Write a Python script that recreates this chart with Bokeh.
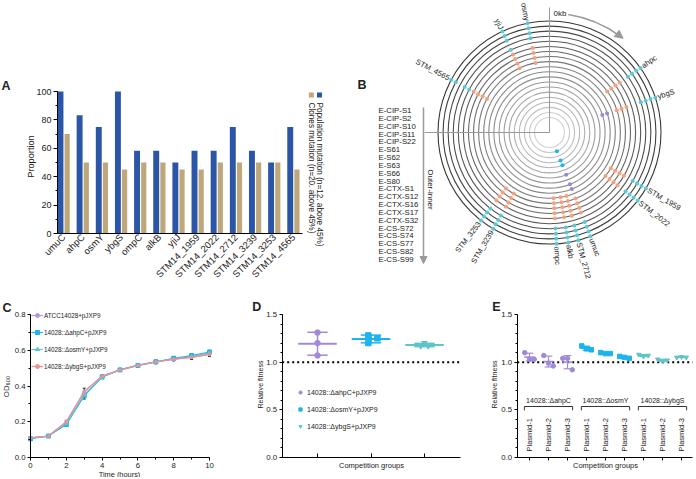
import math
import numpy as np
from bokeh.plotting import figure
from bokeh.models import (Range1d, FixedTicker, SingleIntervalTicker, LinearAxis, Legend,
                          LegendItem, Whisker, ColumnDataSource, NumeralTickFormatter, Arrow,
                          NormalHead, TeeHead)
from bokeh.embed import file_html
from bokeh.resources import INLINE
from bokeh.core.properties import value

FONT = "Liberation Sans"
INK = "#222222"

# ---------------- Panel A data ----------------
genes_a = ["umuC", "ahpC", "osmY", "ybgS", "ompC", "alkB", "yjiJ", "STM14_1959",
           "STM14_2022", "STM14_2712", "STM14_3239", "STM14_3253", "STM14_4565"]
population_pct = [100, 83.3, 75, 100, 58.3, 58.3, 50, 58.3, 58.3, 75, 58.3, 50, 75]
clones_pct = [70, 50, 50, 45, 50, 50, 45, 45, 50, 50, 50, 50, 45]
legend_a = ["Population mutation (n=12. above 45%)", "Clones mutation (n=20. above 45%)"]

# ---------------- Panel B data ----------------
samples = ["E-CIP-S1", "E-CIP-S2", "E-CIP-S10", "E-CIP-S11", "E-CIP-S22",
           "E-S61", "E-S62", "E-S63", "E-S66", "E-S80",
           "E-CTX-S1", "E-CTX-S12", "E-CTX-S16", "E-CTX-S17", "E-CTX-S32",
           "E-CS-S72", "E-CS-S74", "E-CS-S77", "E-CS-S82", "E-CS-S99"]
circ_genes = ["ahpc", "ybgS", "STM_1959", "STM_2022", "umuc", "STM_2712", "alkb", "ompc",
              "STM_3239", "STM_3253", "STM_4565", "yjiJ", "osmy"]
circ_pos_deg = [54.6, 71.7, 120.2, 127.8, 158.5, 165.0, 170.3, 176.4, 210.4, 217.9, 298.2,
                335.0, 348.6]
# mutated sample indices (0 = outermost ring)
mut_samples = {
    "ahpc": [0, 1, 2, 3, 5, 6, 7, 8],
    "ybgS": [0, 1, 2, 3, 6, 7, 8, 10, 11],
    "STM_1959": [0, 1, 2, 3, 5, 6, 7, 8],
    "STM_2022": [0, 1, 2, 3, 5, 6, 7, 8],
    "umuc": [0, 1, 2, 3, 5, 6, 7, 8, 10, 11, 13, 15, 16, 18],
    "STM_2712": [0, 1, 2, 3, 5, 6, 7, 8, 9],
    "alkb": [0, 1, 2, 3, 5, 6, 7, 8, 9],
    "ompc": [0, 1, 2, 3, 5, 6, 7, 8, 9],
    "STM_3239": [0, 1, 2, 3, 5, 6, 7, 8],
    "STM_3253": [0, 1, 2, 3, 5, 6, 7, 8],
    "STM_4565": [0, 1, 3, 4, 5, 6, 7, 8],
    "yjiJ": [0, 1, 2, 4, 5, 6, 7, 8],
    "osmy": [0, 1, 2, 3, 5, 6, 7, 8],
}

# ---------------- Panel C data ----------------
time_h = [0, 1, 2, 3, 4, 5, 6, 7, 8, 9, 10]
c_labels = ["ATCC14028+pJXP9", "14028::ΔahpC+pJXP9", "14028::ΔosmY+pJXP9",
            "14028::ΔybgS+pJXP9"]
od_atcc = [0.110, 0.120, 0.200, 0.370, 0.455, 0.490, 0.515, 0.535, 0.550, 0.560, 0.575]
od_ahpc = [0.105, 0.120, 0.185, 0.345, 0.450, 0.490, 0.515, 0.535, 0.555, 0.570, 0.590]
od_osmy = [0.110, 0.120, 0.190, 0.350, 0.450, 0.490, 0.515, 0.535, 0.550, 0.565, 0.585]
od_ybgs = [0.110, 0.120, 0.200, 0.365, 0.455, 0.490, 0.515, 0.535, 0.550, 0.560, 0.580]
od_sd = [0.005, 0.004, 0.008, 0.018, 0.008, 0.008, 0.008, 0.010, 0.010, 0.012, 0.010]

# ---------------- Panel D data ----------------
d_labels = ["14028::ΔahpC+pJXP9", "14028::ΔosmY+pJXP9", "14028::ΔybgS+pJXP9"]
d_reps = [[1.31, 1.20, 1.07], [1.28, 1.20, 1.25], [1.20, 1.17, 1.17]]
d_jitter = [[0, 0, 0], [-0.05, -0.05, 0.12], [0, -0.07, 0.07]]

# ---------------- Panel E data ----------------
e_strains = ["14028::ΔahpC", "14028::ΔosmY", "14028::ΔybgS"]
e_plasmids = ["Plasmid-1", "Plasmid-2", "Plasmid-3"]
e_reps = [
    [[1.10, 1.03, 1.03], [1.07, 0.99, 0.96], [1.04, 1.04, 0.92]],
    [[1.17, 1.14, 1.13], [1.10, 1.09, 1.09], [1.06, 1.05, 1.04]],
    [[1.08, 1.06, 1.07], [1.03, 1.01, 1.02], [1.05, 1.055, 1.05]],
]
e_jitter = [-0.25, 0.0, 0.25]

# ---------------- colours ----------------
BLUE_A, TAN_A = "#2b55a7", "#bea77b"
PURPLE, SKY, TEAL, SALMON, LAV = "#a08ad8", "#1cb3ef", "#5ec5c9", "#f29090", "#b09ae0"
DOT_COL = {"CIP": "#5cc6d3", "S": "#f5a07c", "CTX": "#9d85d8", "CS": "#1db4f0"}
GREY = "#9a9a9a"

# ---------------- one canvas, pixel base ranges ----------------
W, H = 694, 477
p = figure(width=W, height=H, x_range=Range1d(0, W), y_range=Range1d(0, H),
           output_backend="svg", toolbar_location=None, x_axis_location=None,
           y_axis_location=None, min_border=0)
p.outline_line_color = None
p.grid.visible = False
if p.title is not None:
    p.title.visible = False


def Y(ry):
    return H - ry


def lin_range(d0, d1, p0, p1, total):
    k = (p1 - p0) / (d1 - d0)
    start = d0 - p0 / k
    return Range1d(start, start + total / k)


def make_axis(side, xr, yr, fixed, bounds, ticker, tick_size="7.8px", formatter=None):
    ax = LinearAxis(x_range_name=xr, y_range_name=yr, fixed_location=fixed, bounds=bounds,
                    ticker=ticker)
    if formatter is not None:
        ax.formatter = formatter
    ax.axis_line_color = "black"
    ax.major_tick_line_color = "black"
    ax.minor_tick_line_color = "black"
    ax.major_tick_in = 0
    ax.major_tick_out = 3
    ax.minor_tick_in = 0
    ax.minor_tick_out = 2
    ax.major_label_text_font = FONT
    ax.major_label_text_font_size = tick_size
    ax.major_label_text_color = INK
    ax.major_label_standoff = 2
    p.add_layout(ax, side)
    return ax


def txt(x, y, s, size, align="left", baseline="middle", angle=0.0, bold=False, color=INK):
    p.text(x=[x], y=[Y(y)], text=[s], angle=angle, text_align=align, text_baseline=baseline,
           text_font=value(FONT), text_font_size=size,
           text_font_style="bold" if bold else "normal", text_color=color)


# =============== Panel A ===============
A_X0, A_X1 = -0.325, 12.47
p.extra_x_ranges["ax"] = lin_range(A_X0, A_X1, 57, 302, W)
p.extra_y_ranges["ay"] = lin_range(0, 100, Y(233), Y(91), H)
xa = np.arange(len(genes_a))
p.vbar(x=xa - 0.17, top=population_pct, bottom=0, width=0.31, fill_color=BLUE_A,
       line_color=None, x_range_name="ax", y_range_name="ay")
p.vbar(x=xa + 0.18, top=clones_pct, bottom=0, width=0.27, fill_color=TAN_A,
       line_color=None, x_range_name="ax", y_range_name="ay")
axA = make_axis("below", "ax", "ay", 0, (A_X0, A_X1),
                FixedTicker(ticks=[float(v) for v in xa]), "9.5px")
axA.major_label_overrides = {int(i): g for i, g in enumerate(genes_a)}
axA.major_label_orientation = math.pi / 4
axA.major_tick_out = 0
ayA = make_axis("left", "ax", "ay", A_X0, (0, 100),
                SingleIntervalTicker(interval=20, num_minor_ticks=2), "9px")
ayA.major_tick_out = 4
txt(30, 156, "Proportion", "9.2px", align="center", angle=math.pi / 2)
txt(1, 85.5, "A", "12.5px", bold=True)
p.scatter(x=[319, 310.8], y=[Y(94.5)] * 2, marker="square", size=5,
          fill_color=[BLUE_A, TAN_A], line_color=None)
txt(318.5, 102, legend_a[0], "8.2px", angle=-math.pi / 2)
txt(310.8, 102, legend_a[1], "8.2px", angle=-math.pi / 2)

# =============== Panel B ===============
CX, CY = 549.0, Y(132.0)
R_OUT, R_STEP = 111.5, 5.08
n_s = len(samples)
radii = [R_OUT - R_STEP * k for k in range(n_s)]
grays = np.linspace(55, 208, n_s)
ring_cols = ["#%02x%02x%02x" % (int(g), int(g), int(g)) for g in grays]
p.circle(x=[CX] * n_s, y=[CY] * n_s, radius=radii, fill_color=None, line_color=ring_cols,
         line_width=1.1)
p.segment(x0=[CX, CX], y0=[CY, CY], x1=[CX, 424], y1=[Y(7), CY], line_color=GREY,
          line_width=1)


def sample_group(name):
    if "CIP" in name:
        return "CIP"
    if "CTX" in name:
        return "CTX"
    if "CS" in name:
        return "CS"
    return "S"


dxs, dys, dcs = [], [], []
for gene, deg in zip(circ_genes, circ_pos_deg):
    th = math.radians(90 - deg)
    for k in mut_samples[gene]:
        dxs.append(CX + radii[k] * math.cos(th))
        dys.append(CY + radii[k] * math.sin(th))
        dcs.append(DOT_COL[sample_group(samples[k])])
p.scatter(x=dxs, y=dys, size=4, fill_color=dcs, line_color=None)

R_LAB = 114.0
lx, ly, la, lal = [], [], [], []
for gene, deg in zip(circ_genes, circ_pos_deg):
    th = math.radians(90 - deg)
    lx.append(CX + R_LAB * math.cos(th))
    ly.append(CY + R_LAB * math.sin(th))
    if math.cos(th) >= 0:
        la.append(th)
        lal.append("left")
    else:
        la.append(th + math.pi)
        lal.append("right")
p.text(x="x", y="y", text="t", angle="a", text_align="al",
       source=ColumnDataSource(dict(x=lx, y=ly, t=circ_genes, a=la, al=lal)),
       text_baseline="middle", text_font=value(FONT), text_font_size="7.6px", text_color=INK)

p.text(x=[378.0] * n_s, y=[Y(110 + 7.84 * k) for k in range(n_s)], text=samples,
       text_align="left", text_baseline="middle", text_font=value(FONT),
       text_font_size="7.8px", text_color=INK)
p.add_layout(Arrow(end=NormalHead(size=7, fill_color=GREY, line_color=GREY),
                   x_start=423, y_start=Y(107), x_end=423, y_end=Y(263),
                   line_color=GREY, line_width=1.5))
txt(429.5, 189, "Outer-inner", "8px", align="center", angle=-math.pi / 2)
R_ARC = 119.5
p.arc(x=CX, y=CY, radius=R_ARC, start_angle=math.radians(54), end_angle=math.radians(81),
      line_color=GREY, line_width=1.5)
th_e = math.radians(52)
ex, ey = CX + R_ARC * math.cos(th_e), CY + R_ARC * math.sin(th_e)
p.add_layout(Arrow(end=NormalHead(size=8, fill_color=GREY, line_color=GREY),
                   x_start=ex - 5 * math.sin(th_e), y_start=ey + 5 * math.cos(th_e),
                   x_end=ex, y_end=ey, line_color=GREY, line_width=1.5))
txt(553, 13, "0kb", "8px")
txt(357, 84.5, "B", "12.5px", bold=True)

# =============== Panel C ===============
p.extra_x_ranges["cx"] = lin_range(0, 10, 30, 209, W)
p.extra_y_ranges["cy"] = lin_range(0, 0.8, Y(457), Y(314), H)
make_axis("below", "cx", "cy", 0, (0, 10), SingleIntervalTicker(interval=2, num_minor_ticks=2))
make_axis("left", "cx", "cy", 0, (0, 0.8), SingleIntervalTicker(interval=0.2, num_minor_ticks=2),
          formatter=NumeralTickFormatter(format="0.0"))
txt(119, 473.5, "Time (hours)", "7.4px", align="center")
txt(6, 386, "OD₆₀₀", "7.8px", align="center", angle=math.pi / 2)
txt(2, 307.5, "C", "12.5px", bold=True)
c_series = [od_atcc, od_ahpc, od_osmy, od_ybgs]
c_cols = [LAV, SKY, TEAL, SALMON]
c_marks = ["circle", "square", "triangle", "circle"]
c_size = [2.5, 4, 4, 2.5]
c_items = []
for lbl, vals, col, mk, sz in zip(c_labels, c_series, c_cols, c_marks, c_size):
    ln = p.line(time_h, vals, line_color=col, line_width=1.2, x_range_name="cx",
                y_range_name="cy")
    sc = p.scatter(time_h, vals, marker=mk, size=sz, fill_color=col, line_color=col,
                   x_range_name="cx", y_range_name="cy")
    c_items.append(LegendItem(label=lbl, renderers=[ln, sc]))
for vals in (od_atcc, od_ahpc):
    src = ColumnDataSource(dict(x=time_h, lo=[v - s for v, s in zip(vals, od_sd)],
                                hi=[v + s for v, s in zip(vals, od_sd)]))
    p.add_layout(Whisker(source=src, base="x", lower="lo", upper="hi", line_color="black",
                         line_width=0.8, x_range_name="cx", y_range_name="cy",
                         lower_head=TeeHead(size=3, line_color="black", line_width=0.8),
                         upper_head=TeeHead(size=3, line_color="black", line_width=0.8)))
p.add_layout(Legend(items=c_items, location=(31, 106), label_text_font=FONT,
                    label_text_font_size="6.3px", label_text_color=INK, glyph_width=12,
                    glyph_height=10, label_height=10, label_standoff=1, spacing=7, padding=0,
                    margin=0, border_line_color=None, background_fill_alpha=0))

# =============== Panel D ===============
D_X0, D_X1 = 0.34, 3.67
p.extra_x_ranges["dx"] = lin_range(1, 3, 317, 424, W)
p.extra_y_ranges["dy"] = lin_range(0, 1.5, Y(457), Y(314), H)
axD = make_axis("below", "dx", "dy", 0, (D_X0, D_X1), FixedTicker(ticks=[1, 2, 3]))
axD.major_label_overrides = {1: "", 2: "", 3: ""}
axD.major_tick_in = 4
axD.major_tick_out = 0
make_axis("left", "dx", "dy", D_X0, (0, 1.5),
          SingleIntervalTicker(interval=0.5, num_minor_ticks=5),
          formatter=NumeralTickFormatter(format="0.0"))
p.segment(x0=[D_X0], x1=[D_X1], y0=[1.0], y1=[1.0], line_color="black", line_width=2,
          line_dash="2 3", x_range_name="dx", y_range_name="dy")
txt(260, 384, "Relative fitness", "7.1px", align="center", angle=math.pi / 2)
txt(371, 464.5, "Competition groups", "7.5px", align="center")
txt(251.7, 306, "D", "12.5px", bold=True)
d_cols = [PURPLE, SKY, TEAL]
d_marks = ["circle", "square", "inverted_triangle"]
d_items = []
for g, (reps, jit) in enumerate(zip(d_reps, d_jitter)):
    pos = g + 1
    m = float(np.mean(reps))
    sd = float(np.std(reps, ddof=1))
    col = d_cols[g]
    p.segment(x0=[pos - 0.36], x1=[pos + 0.36], y0=[m], y1=[m], line_color=col, line_width=2,
              x_range_name="dx", y_range_name="dy")
    p.segment(x0=[pos, pos - 0.19, pos - 0.19], x1=[pos, pos + 0.19, pos + 0.19],
              y0=[m - sd, m - sd, m + sd], y1=[m + sd, m - sd, m + sd],
              line_color=col, line_width=1.5, x_range_name="dx", y_range_name="dy")
    sc = p.scatter(x=[pos + j for j in jit], y=reps, marker=d_marks[g], size=5.5,
                   fill_color=col, line_color=col, x_range_name="dx", y_range_name="dy")
    d_items.append(LegendItem(label=d_labels[g], renderers=[sc]))
p.add_layout(Legend(items=d_items, location=(296, 46), label_text_font=FONT,
                    label_text_font_size="7px", label_text_color=INK, glyph_width=8,
                    glyph_height=10, label_height=10, label_standoff=3, spacing=7, padding=0,
                    margin=0, border_line_color=None, background_fill_alpha=0))

# =============== Panel E ===============
E_X0, E_X1 = 0.353, 9.58
p.extra_x_ranges["ex"] = lin_range(1, 9, 529, 681, W)
p.extra_y_ranges["ey"] = lin_range(0, 1.5, Y(457), Y(314), H)
axE = make_axis("below", "ex", "ey", 0, (E_X0, E_X1), FixedTicker(ticks=list(range(1, 10))))
axE.major_label_overrides = {i: "" for i in range(1, 10)}
make_axis("left", "ex", "ey", E_X0, (0, 1.5),
          SingleIntervalTicker(interval=0.5, num_minor_ticks=5),
          formatter=NumeralTickFormatter(format="0.0"))
p.segment(x0=[E_X0], x1=[E_X1], y0=[1.0], y1=[1.0], line_color="black", line_width=2,
          line_dash="2 3", x_range_name="ex", y_range_name="ey")
txt(494, 384, "Relative fitness", "7.1px", align="center", angle=math.pi / 2)
txt(605, 464.5, "Competition groups", "7.5px", align="center")
txt(491.7, 306, "E", "12.5px", bold=True)
plas_x, plas_t = [], []
for s in range(3):
    col = d_cols[s]
    for pl in range(3):
        pos = 3 * s + pl + 1
        reps = e_reps[s][pl]
        m = float(np.mean(reps))
        sd = float(np.std(reps, ddof=1))
        p.segment(x0=[pos - 0.28], x1=[pos + 0.28], y0=[m], y1=[m], line_color=col,
                  line_width=1.5, x_range_name="ex", y_range_name="ey")
        p.segment(x0=[pos, pos - 0.2, pos - 0.2], x1=[pos, pos + 0.2, pos + 0.2],
                  y0=[m - sd, m - sd, m + sd], y1=[m + sd, m - sd, m + sd],
                  line_color=col, line_width=1.2, x_range_name="ex", y_range_name="ey")
        p.scatter(x=[pos + j for j in e_jitter], y=reps, marker=d_marks[s], size=4.5,
                  fill_color=col, line_color=col, x_range_name="ex", y_range_name="ey")
        plas_x.append(pos)
        plas_t.append(e_plasmids[pl])
    lo, hi = 3 * s + 1 - 0.27, 3 * s + 3 + 0.27
    p.segment(x0=[lo, lo, hi], x1=[hi, lo, hi], y0=[0.535, 0.535, 0.535],
              y1=[0.535, 0.495, 0.495], line_color="#333333", line_width=1,
              x_range_name="ex", y_range_name="ey")
p.text(x=[3 * s + 2 for s in range(3)], y=[0.60] * 3, text=e_strains, text_align="center",
       text_baseline="middle", text_font=value(FONT), text_font_size="7px", text_color=INK,
       x_range_name="ex", y_range_name="ey")
p.text(x=plas_x, y=[0.063] * len(plas_x), text=plas_t, angle=math.pi / 2, text_align="left",
       text_baseline="middle", text_font=value(FONT), text_font_size="7.5px", text_color=INK,
       x_range_name="ex", y_range_name="ey")

open("out.html", "w").write(file_html(p, INLINE, "figure"))
